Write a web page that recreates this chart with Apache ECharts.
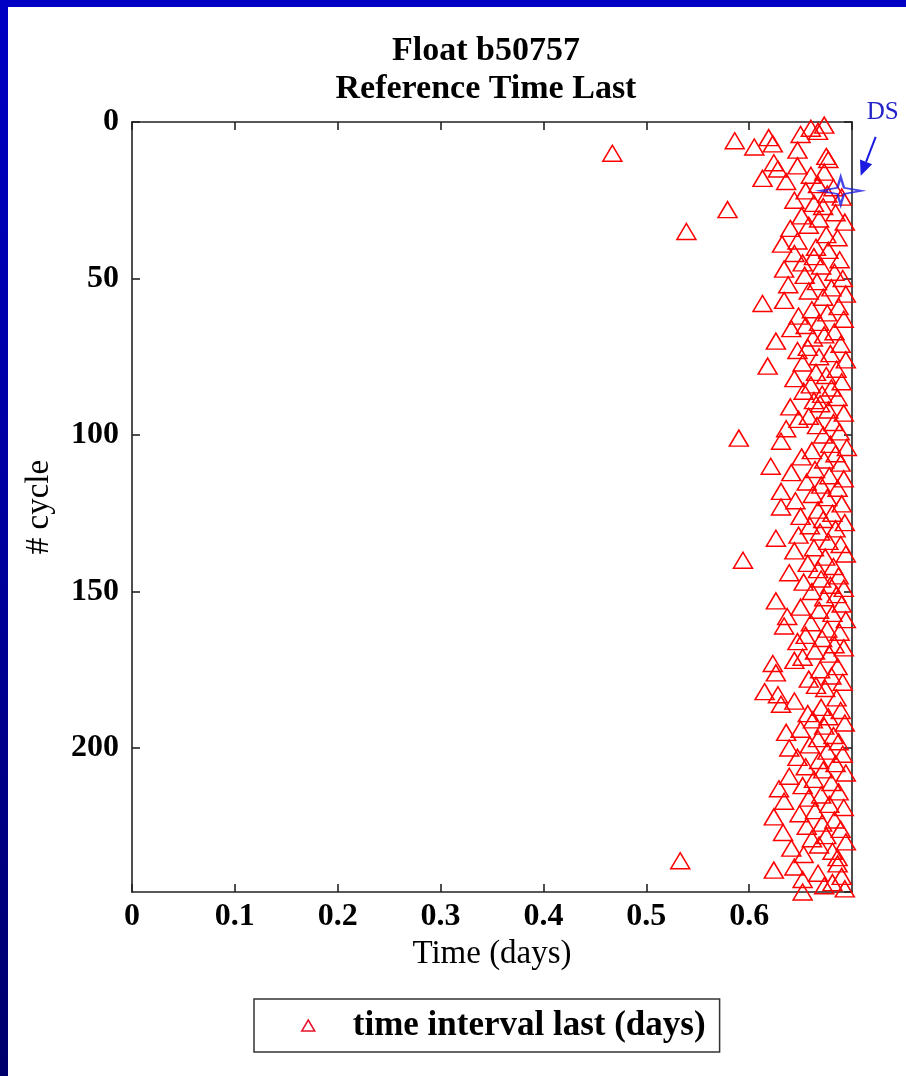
<!DOCTYPE html>
<html>
<head>
<meta charset="utf-8">
<script src="https://cdn.jsdelivr.net/npm/echarts@6/dist/echarts.min.js"></script>
<style>
html,body{margin:0;padding:0;background:#fff;}
#chart{width:906px;height:1076px;}
</style>
</head>
<body>
<div id="chart"></div>
<script>
// time interval last (days), one value per cycle starting at cycle 1
const timeLast = [
0.673,0.660,0.667,0.650,0.619,0.586,0.623,0.605,0.647,0.467,
0.675,0.677,0.624,0.647,0.628,0.673,0.660,0.613,0.636,0.667,
0.682,0.655,0.676,0.690,0.644,0.663,0.672,0.579,0.684,0.651,
0.668,0.693,0.658,0.640,0.539,0.675,0.686,0.647,0.632,0.665,
0.677,0.644,0.663,0.688,0.652,0.670,0.634,0.683,0.654,0.691,
0.666,0.638,0.680,0.658,0.694,0.672,0.634,0.613,0.687,0.661,
0.676,0.648,0.692,0.668,0.655,0.641,0.683,0.673,0.662,0.626,
0.689,0.657,0.647,0.679,0.668,0.694,0.652,0.618,0.685,0.665,
0.675,0.644,0.690,0.660,0.680,0.653,0.671,0.686,0.663,0.669,
0.640,0.677,0.692,0.658,0.648,0.682,0.666,0.636,0.688,0.672,
0.590,0.631,0.679,0.695,0.661,0.684,0.651,0.673,0.689,0.621,
0.664,0.641,0.678,0.692,0.656,0.670,0.686,0.631,0.662,0.676,
0.645,0.690,0.631,0.667,0.681,0.650,0.672,0.693,0.659,0.684,
0.669,0.648,0.626,0.677,0.689,0.663,0.644,0.694,0.674,0.594,
0.657,0.682,0.667,0.639,0.687,0.670,0.653,0.679,0.692,0.661,
0.685,0.673,0.626,0.690,0.650,0.668,0.681,0.637,0.694,0.660,
0.634,0.676,0.688,0.655,0.671,0.647,0.683,0.692,0.664,0.678,
0.652,0.644,0.623,0.686,0.669,0.626,0.680,0.658,0.691,0.665,
0.674,0.615,0.628,0.685,0.644,0.631,0.670,0.689,0.657,0.677,
0.662,0.693,0.673,0.650,0.636,0.682,0.667,0.687,0.659,0.639,
0.676,0.691,0.647,0.668,0.684,0.655,0.672,0.694,0.639,0.663,
0.680,0.652,0.629,0.687,0.670,0.658,0.634,0.678,0.692,0.664,
0.649,0.624,0.683,0.671,0.656,0.689,0.633,0.675,0.661,0.694,
0.668,0.641,0.681,0.653,0.686,0.533,0.686,0.644,0.624,0.667,
0.690,0.652,0.681,0.673,0.693,0.652
];
const firstCycle = 1;
const dsPoint = [0.689, 22];   // [time, cycle]
const xTicks = ["0","0.1","0.2","0.3","0.4","0.5","0.6"];
const yTicks = ["0","50","100","150","200"];
const titleLines = ["Float b50757", "Reference Time Last"];
const seriesName = "time interval last (days)";

const scatterData = timeLast.map((t, i) => [t, firstCycle + i]);

const serif = "'Liberation Serif','Times New Roman',serif";
const axisLineStyle = {color: '#222', width: 1.6};

const chart = echarts.init(document.getElementById('chart'), null, {renderer: 'canvas'});

const starPath = 'path://M0,-10 L2.2,-2.2 L14,0 L2.2,2.2 L0,10 L-2.2,2.2 L-14,0 L-2.2,-2.2 Z';

const option = {
  backgroundColor: '#ffffff',
  animation: false,
  title: {
    text: titleLines.join('\n'),
    left: 481, top: 27,
    textAlign: 'center',
    textStyle: {fontFamily: serif, fontWeight: 'bold', fontSize: 34, lineHeight: 38, color: '#000'}
  },
  grid: {left: 132, top: 122, width: 720, height: 770, containLabel: false},
  xAxis: [{
    type: 'value', min: 0, max: 0.7, interval: 0.1, position: 'bottom',
    name: 'Time (days)', nameLocation: 'middle', nameGap: 43,
    nameTextStyle: {fontFamily: serif, fontSize: 33, color: '#000'},
    axisLine: {show: true, onZero: false, lineStyle: axisLineStyle},
    axisTick: {show: true, inside: true, length: 8, lineStyle: axisLineStyle},
    axisLabel: {fontFamily: serif, fontWeight: 'bold', fontSize: 32, color: '#000', margin: 9,
      showMaxLabel: false,
      formatter: v => { const i = Math.round(v * 10); return Math.abs(v*10 - i) < 1e-6 && i < xTicks.length ? xTicks[i] : ''; }},
    splitLine: {show: false}
  }, {
    type: 'value', min: 0, max: 0.7, interval: 0.1, position: 'top',
    axisLine: {show: true, onZero: false, lineStyle: axisLineStyle},
    axisTick: {show: true, inside: true, length: 8, lineStyle: axisLineStyle},
    axisLabel: {show: false}, splitLine: {show: false}
  }],
  yAxis: [{
    type: 'value', min: 0, max: 246, interval: 50, inverse: true, position: 'left',
    name: '# cycle', nameLocation: 'middle', nameGap: 76, nameRotate: 90,
    nameTextStyle: {fontFamily: serif, fontSize: 33, color: '#000'},
    axisLine: {show: true, onZero: false, lineStyle: axisLineStyle},
    axisTick: {show: true, inside: true, length: 8, lineStyle: axisLineStyle},
    axisLabel: {fontFamily: serif, fontWeight: 'bold', fontSize: 32, color: '#000', margin: 13,
      showMaxLabel: false,
      formatter: v => { const i = Math.round(v / 50); return (v % 50 === 0 && i < yTicks.length) ? yTicks[i] : ''; }},
    splitLine: {show: false}
  }, {
    type: 'value', min: 0, max: 246, interval: 50, inverse: true, position: 'right',
    axisLine: {show: true, onZero: false, lineStyle: axisLineStyle},
    axisTick: {show: true, inside: true, length: 8, lineStyle: axisLineStyle},
    axisLabel: {show: false}, splitLine: {show: false}
  }],
  legend: {
    data: [{name: seriesName, icon: 'triangle',
            itemStyle: {color: 'rgba(0,0,0,0)', borderColor: '#e8102a', borderWidth: 1.5}}],
    left: 254, top: 999,
    orient: 'horizontal',
    itemWidth: 13, itemHeight: 11,
    padding: [9, 14, 9, 47],
    borderColor: '#333', borderWidth: 1.5, borderRadius: 0,
    backgroundColor: '#fff',
    selectedMode: false,
    textStyle: {fontFamily: serif, fontWeight: 'bold', fontSize: 35, color: '#000', padding: [0, 0, 0, 33]}
  },
  series: [{
    name: seriesName,
    type: 'scatter',
    xAxisIndex: 0, yAxisIndex: 0,
    symbol: 'triangle',
    symbolSize: [19, 16],
    clip: false,
    itemStyle: {color: 'rgba(0,0,0,0)', borderColor: '#ff0000', borderWidth: 1.5, opacity: 1},
    emphasis: {disabled: true},
    data: scatterData,
    z: 3
  }, {
    name: 'DS',
    type: 'scatter',
    xAxisIndex: 0, yAxisIndex: 0,
    symbol: starPath,
    symbolSize: [42, 28],
    clip: false,
    itemStyle: {color: 'rgba(0,0,0,0)', borderColor: '#1a1ae0', borderWidth: 2},
    emphasis: {disabled: true},
    data: [dsPoint],
    z: 4
  }],
  graphic: []
};

chart.setOption(option);

// border of the slide and DS annotation (arrow placed relative to the DS point)
const p = chart.convertToPixel({xAxisIndex: 0, yAxisIndex: 0}, dsPoint);
const tip = [p[0] + 20, p[1] - 15];
const tail = [p[0] + 35, p[1] - 54];
const dx = tip[0] - tail[0], dy = tip[1] - tail[1];
const L = Math.sqrt(dx*dx + dy*dy);
const ux = dx / L, uy = dy / L;
const headLen = 15, headHalf = 6.5;
const bx = tip[0] - ux * headLen, by = tip[1] - uy * headLen;
const px = -uy, py = ux;

chart.setOption({
  graphic: [
    {type: 'rect', left: 0, top: 0, shape: {width: 906, height: 7}, style: {fill: '#0000c4'}, silent: true},
    {type: 'rect', left: 0, top: 0, shape: {width: 8, height: 1076},
     style: {fill: new echarts.graphic.LinearGradient(0, 0, 0, 1, [
       {offset: 0, color: '#0000c4'}, {offset: 0.5, color: '#00009e'}, {offset: 1, color: '#00006c'}])}, silent: true},
    {type: 'text', x: p[0] + 42, y: p[1] - 78,
     style: {text: 'DS', fontFamily: serif, fontSize: 25, fill: '#2323c8', textAlign: 'center', textVerticalAlign: 'middle'}, silent: true},
    {type: 'line', shape: {x1: tail[0], y1: tail[1], x2: bx, y2: by},
     style: {stroke: '#1a1ae0', lineWidth: 2}, silent: true},
    {type: 'polygon', shape: {points: [tip, [bx + px*headHalf, by + py*headHalf], [bx - px*headHalf, by - py*headHalf]]},
     style: {fill: '#1a1ae0'}, silent: true}
  ]
});
</script>
</body>
</html>
